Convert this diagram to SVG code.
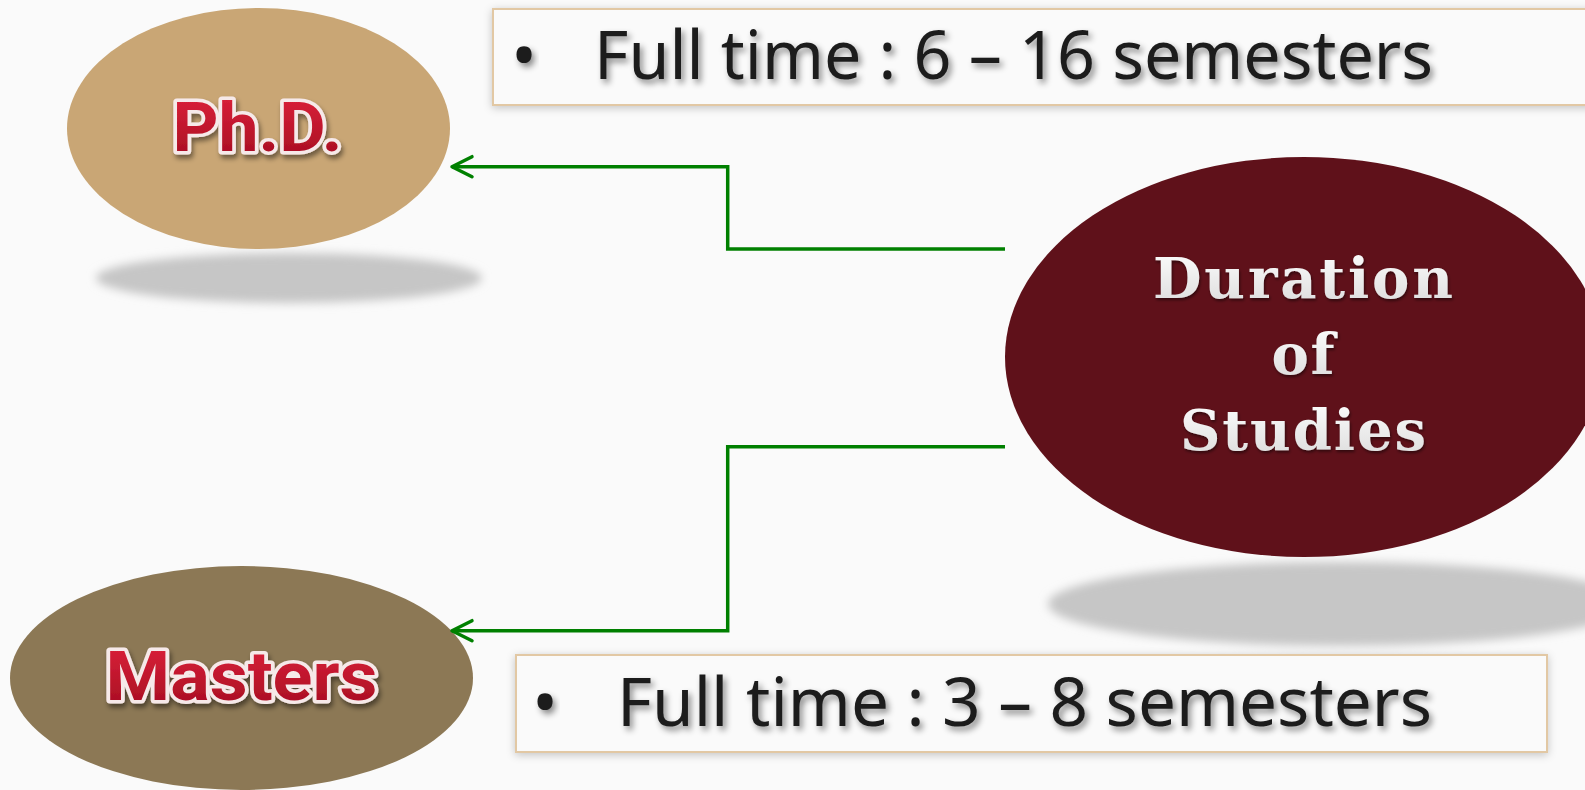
<svg xmlns="http://www.w3.org/2000/svg" width="1585" height="790" viewBox="0 0 1585 790">
  <defs>
    <filter id="blurShadow" x="-20%" y="-50%" width="140%" height="200%">
      <feGaussianBlur stdDeviation="5"/>
    </filter>
    <filter id="boxShadow" x="-5%" y="-30%" width="110%" height="160%">
      <feDropShadow dx="0" dy="2" stdDeviation="4" flood-color="#000" flood-opacity="0.22"/>
    </filter>
    <filter id="textShadow" x="-5%" y="-30%" width="110%" height="160%">
      <feDropShadow dx="3" dy="4" stdDeviation="3" flood-color="#000" flood-opacity="0.45"/>
    </filter>
    <filter id="labelShadow" x="-10%" y="-30%" width="120%" height="160%">
      <feDropShadow dx="2" dy="4" stdDeviation="2.5" flood-color="#000" flood-opacity="0.45"/>
    </filter>
    <filter id="lightShadow" x="-10%" y="-30%" width="120%" height="160%">
      <feDropShadow dx="1" dy="2" stdDeviation="1.5" flood-color="#000" flood-opacity="0.5"/>
    </filter>
    <linearGradient id="redGrad" x1="0" y1="0" x2="0" y2="1">
      <stop offset="0" stop-color="#E0243C"/>
      <stop offset="1" stop-color="#A00A1F"/>
    </linearGradient>
    <linearGradient id="whiteGrad" x1="0" y1="0" x2="0" y2="1">
      <stop offset="0" stop-color="#FFFFFF"/>
      <stop offset="1" stop-color="#DADADA"/>
    </linearGradient>
    <marker id="chev" viewBox="-24 -14 28 28" refX="0" refY="0" markerWidth="28" markerHeight="28" markerUnits="userSpaceOnUse" orient="auto">
      <path d="M-20,-10 L0,0 L-20,10" fill="none" stroke="#008000" stroke-width="3.5" stroke-linecap="round" stroke-linejoin="round"/>
    </marker>
  </defs>
  <style>
    .shadow { fill: #C6C6C6; filter: url(#blurShadow); }
    .box { fill: #FAFAFA; stroke: #E2C8A4; stroke-width: 2; filter: url(#boxShadow); }
    .info { font-family: "Noto Sans", "Liberation Sans", sans-serif; font-size: 68px; fill: #1C1C1C; filter: url(#textShadow); }
    .label { font-family: Roboto, "Liberation Sans", sans-serif; font-weight: bold; font-size: 68px; fill: url(#redGrad); stroke: #F6E9E9; stroke-width: 7; stroke-linejoin: round; paint-order: stroke fill; text-anchor: middle; filter: url(#labelShadow); }
    .title { font-family: "DejaVu Serif", "Liberation Serif", serif; font-weight: bold; font-size: 56px; fill: url(#whiteGrad); text-anchor: middle; filter: url(#lightShadow); }
    .conn { fill: none; stroke: #008000; stroke-width: 3.5; }
  </style>
  <rect x="0" y="0" width="1585" height="790" fill="#FAFAFA"/>

  <g id="phd">
    <ellipse class="shadow" cx="289" cy="278" rx="193" ry="25"/>
    <ellipse cx="258.5" cy="128.5" rx="191.5" ry="120.5" fill="#C9A675"/>
    <text class="label" x="257.5" y="151" textLength="170" lengthAdjust="spacingAndGlyphs">Ph.D.</text>
  </g>

  <g id="masters">
    <ellipse cx="241.5" cy="678" rx="231.5" ry="112" fill="#8C7855"/>
    <text class="label" x="241.5" y="700" textLength="272" lengthAdjust="spacingAndGlyphs">Masters</text>
  </g>

  <g id="duration">
    <ellipse class="shadow" cx="1340" cy="604" rx="292" ry="42"/>
    <ellipse cx="1304" cy="357" rx="299" ry="200" fill="#5F111A"/>
    <text class="title" x="1303" y="298" textLength="300" lengthAdjust="spacing">Duration</text>
    <text class="title" x="1303" y="374" textLength="63" lengthAdjust="spacing">of</text>
    <text class="title" x="1303" y="450" textLength="246" lengthAdjust="spacing">Studies</text>
  </g>

  <g id="phd-info">
    <rect class="box" x="493" y="9" width="1100" height="96"/>
    <text class="info" x="524" y="79" text-anchor="middle">•</text>
    <text class="info" x="594" y="79" textLength="839" lengthAdjust="spacingAndGlyphs">Full time : 6 – 16 semesters</text>
  </g>

  <g id="masters-info">
    <rect class="box" x="516" y="655" width="1031" height="97"/>
    <text class="info" x="545" y="726" text-anchor="middle">•</text>
    <text class="info" x="617" y="726" textLength="815" lengthAdjust="spacingAndGlyphs">Full time : 3 – 8 semesters</text>
  </g>

  <g id="connectors">
    <path class="conn" d="M1005,249 H727.7 V166.7 H452" marker-end="url(#chev)"/>
    <path class="conn" d="M1005,446.7 H727.7 V630.7 H452" marker-end="url(#chev)"/>
  </g>
</svg>
